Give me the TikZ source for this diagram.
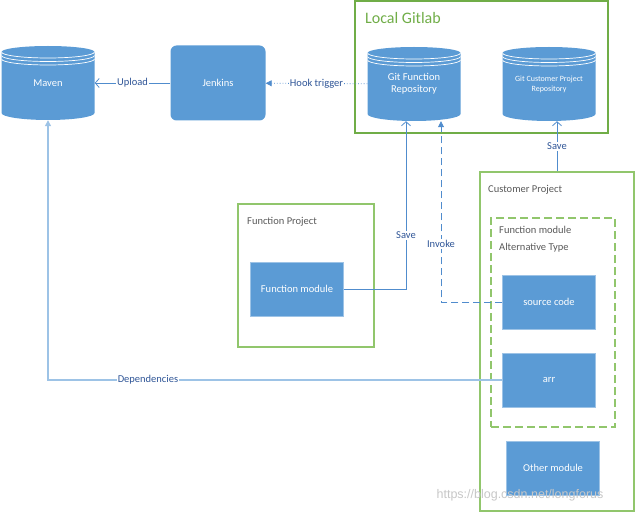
\documentclass[tikz,border=0pt]{standalone}
\usepackage{fontspec}
\setmainfont{Carlito}
\newfontfamily\markfont{Liberation Sans}
\usetikzlibrary{arrows.meta,calc}

\definecolor{boxblue}{RGB}{91,155,213}
\definecolor{lineblue}{RGB}{80,140,205}
\definecolor{lightblue}{RGB}{157,195,230}
\definecolor{textblue}{RGB}{47,85,151}
\definecolor{gitgreen}{RGB}{112,173,71}
\definecolor{projgreen}{RGB}{145,198,108}
\definecolor{greytext}{RGB}{89,89,89}

\tikzset{
	repo/.style={rectangle, minimum width=93pt, minimum height=74pt, inner sep=0pt,
		text=white, align=center,
		path picture={
			\fill[boxblue] ([yshift=-6pt]path picture bounding box.north west)
				-- ([yshift=7pt]path picture bounding box.south west)
				arc[start angle=180, end angle=360, x radius=46.5pt, y radius=7pt]
				-- ([yshift=-6pt]path picture bounding box.north east)
				arc[start angle=0, end angle=180, x radius=46.5pt, y radius=6pt] -- cycle;
			\foreach \d in {6,9.5,13}
				\draw[white, line width=0.7pt] ([yshift=-\d pt]path picture bounding box.north west)
					arc[start angle=180, end angle=360, x radius=46.5pt, y radius=6pt];
		}},
	module/.style={rectangle, fill=boxblue, draw=lightblue, line width=0.4pt, text=white,
		minimum width=93pt, minimum height=54pt, inner sep=0pt},
	frame/.style={rectangle, draw=projgreen, line width=1.1pt, inner sep=0pt},
	caption/.style={anchor=west, text=greytext, inner sep=0pt},
	link/.style={lineblue, line width=0.8pt},
	lbl/.style={fill=white, text=textblue, inner sep=1pt},
	open/.style={-{Straight Barb[length=4pt, width=9pt]}},
	solid tip/.style={-{Triangle[length=6pt, width=6pt]}}
}

\begin{document}
\begin{tikzpicture}[x=1pt, y=-1pt, font=\fontsize{10.5}{12}\selectfont]
	\useasboundingbox (0,0) rectangle (636,513);

	% frames
	\node[frame, draw=gitgreen, minimum width=253pt, minimum height=132pt] (gitlab) at (481.5,67) {};
	\node[caption, text=gitgreen, font=\fontsize{16}{18}\selectfont] (gitlabcap) at (365,18) {Local Gitlab};
	\node[frame, minimum width=136pt, minimum height=143pt] (funcproj) at (306,275.5) {};
	\node[caption] (funcprojcap) at (247,222) {Function Project};
	\node[frame, minimum width=154pt, minimum height=339pt] (custproj) at (557,341.5) {};
	\node[caption] (custprojcap) at (488,190) {Customer Project};
	\node[frame, line width=1.4pt, dash pattern=on 8pt off 4pt, minimum width=124pt, minimum height=209pt] (alttype) at (553,322.5) {};
	\node[caption] (altcap1) at (499,230) {Function module};
	\node[caption] (altcap2) at (499,248) {Alternative Type};

	% repositories and servers
	\node[repo] (maven) at (48,83) {Maven};
	\node[rectangle, rounded corners=6pt, fill=boxblue, text=white, minimum width=95pt, minimum height=75pt] (jenkins) at (218,83) {Jenkins};
	\node[repo] (gitfunc) at (414,84) {Git Function\\Repository};
	\node[repo, font=\fontsize{8}{10}\selectfont] (gitcust) at (549,84) {Git Customer Project\\Repository};

	% modules
	\node[module] (funcmod) at (297,289) {Function module};
	\node[module] (srccode) at (549,302) {source code};
	\node[module] (arr) at (549,380) {arr};
	\node[module] (othermod) at (553,468) {Other module};

	% connectors
	\draw[link, open] (jenkins) -- node[lbl] {Upload} (maven);
	\draw[link, dotted, solid tip] (gitfunc) -- node[lbl] {Hook trigger} (jenkins);
	\draw[link, open] (funcmod.east) -| node[lbl, pos=0.66] {Save} ([xshift=-8pt]gitfunc.south);
	\draw[link, dash pattern=on 7pt off 4pt, solid tip] (srccode.west) -| node[lbl, pos=0.66] {Invoke} ([xshift=27pt]gitfunc.south);
	\draw[link, open] (custproj.north) -- node[lbl] {Save} (custproj.north |- gitcust.south);
	\draw[lightblue, line width=1.2pt, solid tip] (arr.west) -| node[lbl, pos=0.39] {Dependencies} (maven.south);

	% watermark
	\node[text=black!22, font=\markfont\fontsize{12.5}{14}\selectfont] (mark) at (520,495) {https://blog.csdn.net/longforus};
\end{tikzpicture}
\end{document}
